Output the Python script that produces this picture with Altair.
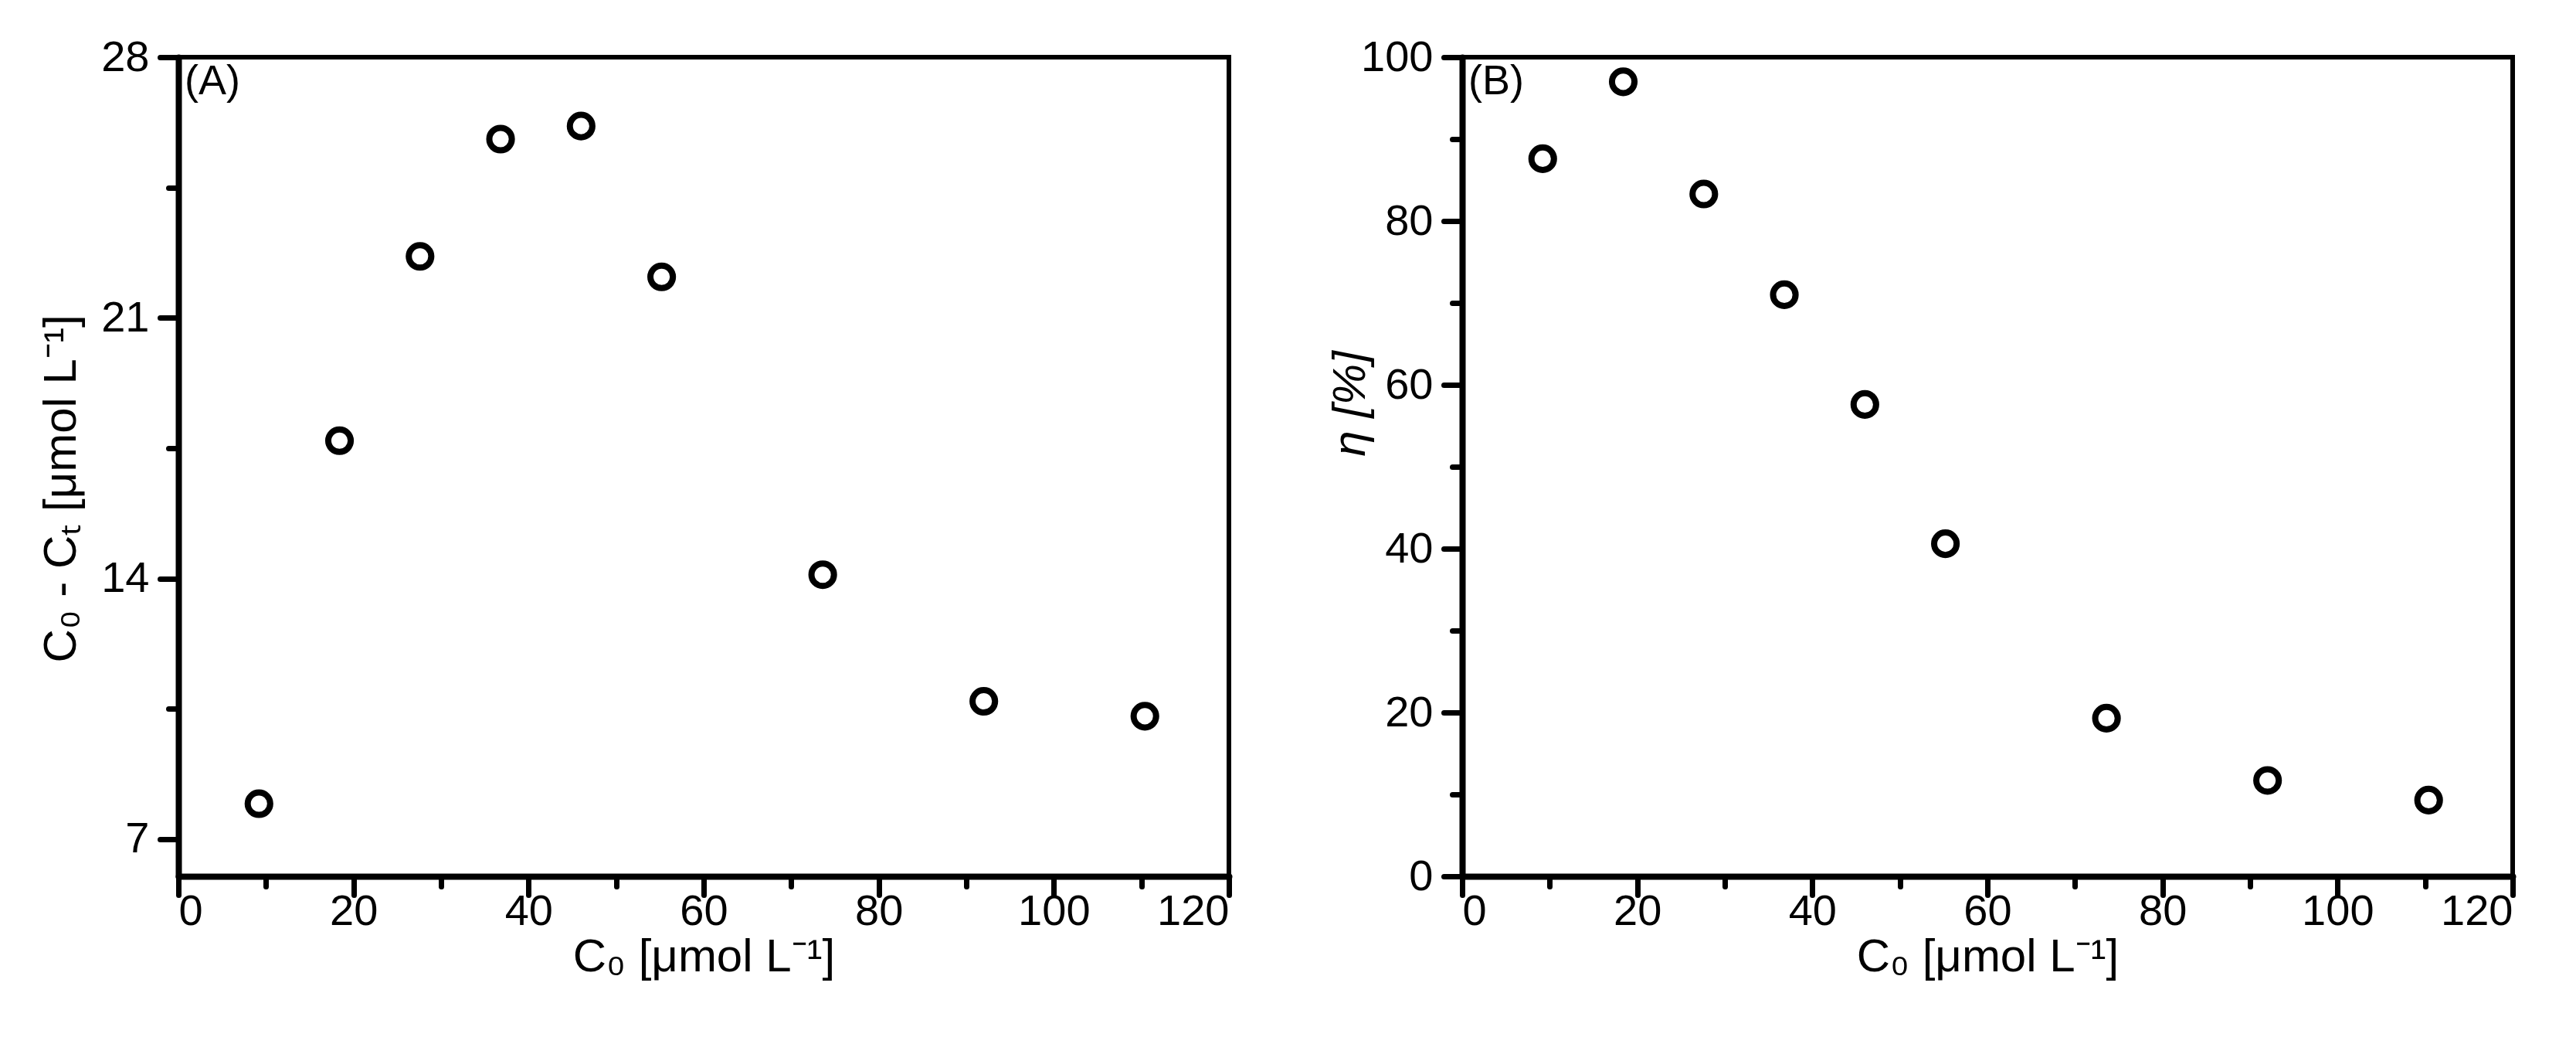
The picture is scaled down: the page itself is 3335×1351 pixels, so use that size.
import altair as alt
import pandas as pd

# data
c0 = [9.2, 18.4, 27.6, 36.8, 46.0, 55.2, 73.6, 92.0, 110.4]
removed = [7.95, 17.7, 22.65, 25.8, 26.15, 22.1, 14.1, 10.7, 10.3]
efficiency = [87.6, 97.0, 83.3, 71.0, 57.6, 40.6, 19.3, 11.7, 9.3]

x_major = [0, 20, 40, 60, 80, 100, 120]
x_minor = [10, 30, 50, 70, 90, 110]
ya_major = [7, 14, 21, 28]
ya_minor = [10.5, 17.5, 24.5]
yb_major = [0, 20, 40, 60, 80, 100]
yb_minor = [10, 30, 50, 70, 90]

x_title = "C₀ [μmol L⁻¹]"
ya_title = "C₀ - Cₜ [μmol L⁻¹]"
yb_title = "η [%]"

df = pd.DataFrame({"c0": c0, "removed": removed, "efficiency": efficiency})

W, H = 1360, 1060
FONT = "Liberation Sans"


def panel(field, ydomain, ymaj, ymin, ytitle, label, ytitle_pad, ytitle_y, ytitle_style):
    xs = alt.Scale(domain=[0, 120], nice=False, zero=False)
    ys = alt.Scale(domain=ydomain, nice=False, zero=False)
    pts = alt.Chart(df).mark_point(
        shape="circle", filled=False, size=850, strokeWidth=8, color="black", opacity=1
    ).encode(
        x=alt.X("c0:Q", scale=xs, axis=alt.Axis(orient="bottom", values=x_major, title=x_title,
                                                 titlePadding=2, labelPadding=-6)),
        y=alt.Y(f"{field}:Q", scale=ys, axis=alt.Axis(orient="left", values=ymaj, title=ytitle,
                                                      titlePadding=ytitle_pad, titleY=ytitle_y,
                                                      titleFontStyle=ytitle_style)),
    )
    minor = alt.Chart(df).mark_point(opacity=0, size=1).encode(
        x=alt.X("c0:Q", scale=xs, axis=alt.Axis(orient="bottom", values=x_minor, labels=False,
                                                 domain=False, tickSize=13, title=None)),
        y=alt.Y(f"{field}:Q", scale=ys, axis=alt.Axis(orient="left", values=ymin, labels=False,
                                                      domain=False, tickSize=13, title=None)),
    )
    lab = alt.Chart(pd.DataFrame({"t": [label]})).mark_text(
        align="left", baseline="alphabetic", fontSize=54, font=FONT, color="black"
    ).encode(text="t:N", x=alt.value(8), y=alt.value(48))
    return alt.layer(pts, minor, lab).resolve_axis(x="independent", y="independent").properties(
        width=W, height=H
    )


a = panel("removed", [6, 28], ya_major, ya_minor, ya_title, "(A)", 20, 558, "normal")
b = panel("efficiency", [0, 100], yb_major, yb_minor, yb_title, "(B)", -18, 448, "italic")

chart = alt.hconcat(a, b, spacing=117).properties(
    padding={"left": 38, "top": 35, "right": 10, "bottom": 10}
).configure_view(stroke="black", strokeWidth=6).configure_axis(
    grid=False,
    domainColor="black", domainWidth=8, domainCap="round",
    tickColor="black", tickWidth=7, tickSize=24, tickCap="round",
    labelFont=FONT, labelFontSize=56, labelColor="black", labelPadding=14,
    titleFont=FONT, titleFontSize=60, titleFontWeight="normal", titleColor="black",
)

chart.save("out.html", embed_options={"renderer": "svg", "actions": False})
